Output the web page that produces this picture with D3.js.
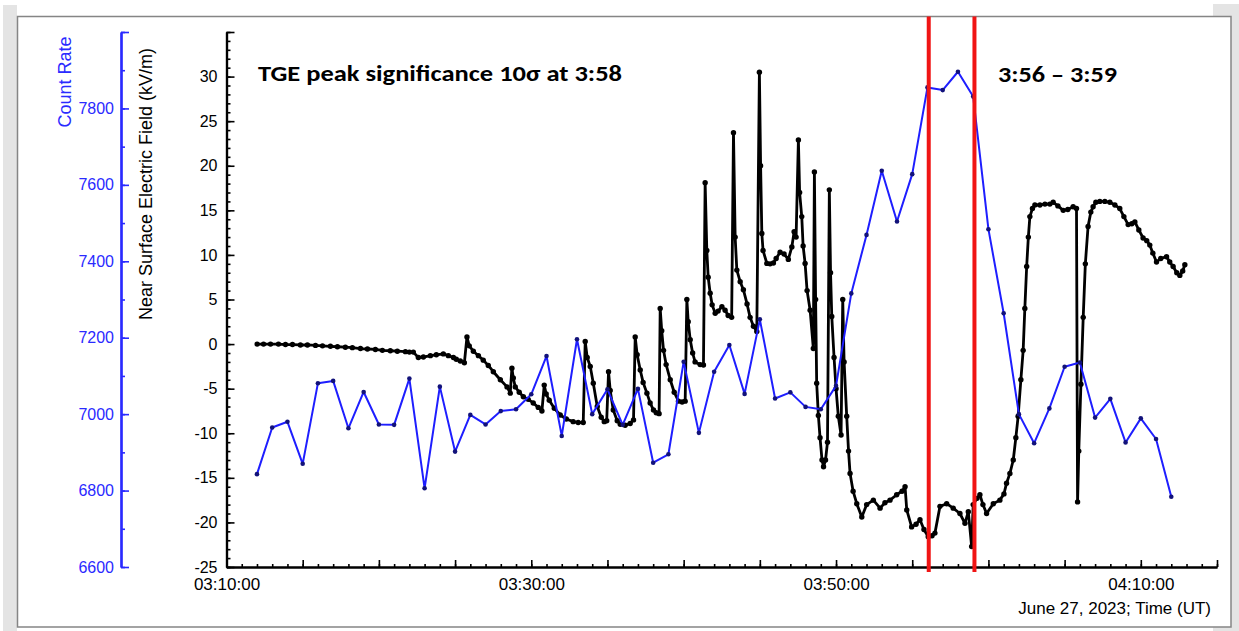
<!DOCTYPE html>
<html>
<head>
<meta charset="utf-8">
<script src="https://cdn.jsdelivr.net/npm/d3@7"></script>
<style>
  body { margin: 0; background: #fff; }
  svg { display: block; font-family: Arial, "Liberation Sans", sans-serif; }
</style>
</head>
<body>
<svg id="chart" width="1239" height="631"></svg>
<script>
// 1-minute count rate (blue), June 27, 2023
const countTimes = ["03:12:00","03:13:00","03:14:00","03:15:00","03:16:00","03:17:00","03:18:00","03:19:00","03:20:00","03:21:00",
  "03:22:00","03:23:00","03:24:00","03:25:00","03:26:00","03:27:00","03:28:00","03:29:00","03:30:00","03:31:00",
  "03:32:00","03:33:00","03:34:00","03:35:00","03:36:00","03:37:00","03:38:00","03:39:00","03:40:00","03:41:00",
  "03:42:00","03:43:00","03:44:00","03:45:00","03:46:00","03:47:00","03:48:00","03:49:00","03:50:00","03:51:00",
  "03:52:00","03:53:00","03:54:00","03:55:00","03:56:00","03:57:00","03:58:00","03:59:00","04:00:00","04:01:00",
  "04:02:00","04:03:00","04:04:00","04:05:00","04:06:00","04:07:00","04:08:00","04:09:00","04:10:00","04:11:00","04:12:00"];
const countRate = [6843,6965,6980,6870,7081,7087,6963,7058,6973,6972,
  7093,6806,7072,6902,6998,6973,7008,7013,7052,7152,
  6943,7196,7000,7065,6972,7066,6873,6895,7137,6951,
  7111,7181,7053,7248,7041,7057,7019,7013,7074,7316,
  7469,7637,7504,7628,7855,7848,7896,7831,7484,7264,
  7000,6924,7015,7124,7135,6991,7040,6926,6989,6935,6784];

// near surface electric field (black): minutes after 03:00 UT, kV/m
const fieldMin = [12.01,12.43,12.89,13.41,13.87,14.33,14.85,15.31,15.84,16.30,16.82,17.28,17.80,18.26,18.79,19.25,19.77,20.23,20.75,21.21,
  21.74,22.00,22.26,22.59,22.92,23.38,23.77,24.23,24.56,24.89,25.08,25.34,25.61,25.78,25.93,26.20,26.53,26.85,27.18,27.51,
  27.97,28.41,28.62,28.73,28.82,28.95,29.21,29.48,29.80,30.13,30.46,30.70,30.85,30.98,31.18,31.51,31.90,32.30,32.75,33.08,
  33.41,33.54,33.67,33.87,34.07,34.33,34.59,34.79,34.95,35.07,35.18,35.38,35.64,35.84,36.16,36.49,36.71,36.82,36.95,37.15,
  37.34,37.59,37.80,38.02,38.20,38.39,38.46,38.56,38.68,38.85,39.12,39.38,39.66,39.90,40.10,40.21,40.30,40.43,40.59,40.75,
  41.08,41.30,41.41,41.52,41.61,41.74,41.87,42.07,42.26,42.51,42.72,42.92,43.15,43.27,43.38,43.49,43.71,43.92,44.16,44.36,
  44.58,44.80,44.97,45.05,45.13,45.21,45.46,45.67,45.89,46.07,46.33,46.59,46.87,47.10,47.25,47.38,47.53,47.61,47.75,47.84,
  47.97,48.10,48.30,48.51,48.58,48.66,48.73,48.84,48.95,49.08,49.18,49.31,49.44,49.56,49.64,49.72,49.87,50.00,50.15,50.33,
  50.44,50.53,50.70,50.82,50.92,51.12,51.36,51.69,52.01,52.45,52.89,53.21,53.54,53.98,54.33,54.53,54.64,54.96,55.25,55.51,
  55.77,56.05,56.30,56.49,56.82,57.26,57.69,58.13,58.46,58.68,58.90,59.00,59.25,59.44,59.64,59.88,60.32,60.75,61.02,61.19,
  61.41,61.63,61.80,61.95,62.13,62.28,62.39,62.51,62.62,62.72,62.89,63.05,63.38,63.71,64.03,64.25,64.56,64.91,65.21,65.56,
  65.78,65.85,65.93,66.07,66.22,66.36,66.54,66.72,66.87,67.05,67.31,67.64,67.97,68.30,68.62,68.89,69.17,69.41,69.61,69.87,
  70.15,70.39,70.59,70.79,71.03,71.31,71.69,71.90,72.12,72.36,72.56,72.75,72.89];
const fieldKV = [0.0,0.0,0.0,0.0,-0.05,-0.05,-0.1,-0.1,-0.15,-0.2,-0.25,-0.3,-0.35,-0.4,-0.5,-0.55,-0.6,-0.7,-0.75,-0.8,
  -0.85,-0.9,-0.9,-1.5,-1.45,-1.3,-1.2,-1.1,-1.3,-1.5,-1.7,-1.9,-2.1,0.8,-0.2,-0.8,-1.3,-1.8,-2.4,-3.1,
  -4.0,-4.8,-5.5,-2.7,-3.8,-4.8,-5.4,-5.9,-6.2,-6.6,-7.1,-7.5,-4.6,-5.6,-6.3,-7.2,-7.95,-8.4,-8.7,-8.8,
  -8.8,0.3,-1.5,-2.5,-4.4,-7.0,-8.2,-8.7,-8.6,-3.1,-5.2,-7.4,-8.6,-9.0,-9.1,-8.9,-8.5,0.8,-1.2,-2.9,
  -4.3,-5.5,-6.6,-7.4,-7.7,-7.8,4.0,1.5,-0.7,-2.3,-4.0,-5.4,-6.4,-6.5,-6.4,5.0,2.5,0.5,-1.0,-2.0,
  -2.3,-2.35,18.1,10.5,7.5,5.7,4.4,3.45,3.7,4.2,3.8,3.2,3.0,23.7,12.0,8.3,7.0,6.1,4.5,3.0,
  2.0,1.4,30.5,20.0,12.4,10.5,9.05,9.0,9.1,9.6,10.3,10.1,9.5,10.9,12.6,12.0,22.9,17.0,14.3,11.0,
  9.05,6.0,3.8,-0.5,19.3,5.0,-4.4,-8.0,-10.5,-13.0,-13.75,-13.0,-11.0,17.3,8.0,3.1,-1.5,-5.0,-8.1,-10.2,
  5.0,-2.0,-8.1,-12.0,-14.5,-16.5,-17.9,-19.4,-18.0,-17.5,-18.4,-17.8,-17.5,-16.9,-16.5,-16.0,-18.6,-20.5,-20.2,-19.7,
  -20.8,-21.6,-21.5,-21.2,-18.2,-17.9,-18.4,-19.0,-20.1,-18.8,-22.7,-18.0,-17.3,-16.9,-18.0,-19.0,-17.9,-17.5,-16.8,-15.6,
  -14.5,-13.0,-10.5,-8.1,-4.0,-0.7,4.0,8.7,12.0,14.3,15.2,15.6,15.6,15.7,15.7,15.9,15.5,15.0,15.1,15.4,
  15.2,-17.7,-12.0,-4.5,3.0,9.0,13.2,14.8,15.4,15.9,16.0,16.0,15.9,15.6,15.2,14.3,13.4,13.5,13.7,12.8,
  11.9,11.6,11.1,10.2,9.2,9.6,9.8,9.2,8.7,8.0,7.7,8.2,8.9];

const xLabelTimes = ["03:10:00","03:30:00","03:50:00","04:10:00"];
const windowTimes = ["03:56:05","03:59:05"];   // red markers of the TGE window
const fieldLabels = [-25,-20,-15,-10,-5,0,5,10,15,20,25,30];
const countLabels = [6600,6800,7000,7200,7400,7600,7800];

const BLUE = "#2a2aff";
const parse = d3.utcParse("%H:%M:%S");
const t0 = parse("03:00:00");
const fromMin = m => new Date(t0.getTime() + m * 60000);

const svg = d3.select("#chart");

// page / frame
svg.append("rect").attr("x", 3).attr("y", 5).attr("width", 14).attr("height", 626).attr("fill", "#e4e4e4");
svg.append("rect").attr("x", 1213).attr("y", 4).attr("width", 26).attr("height", 627).attr("fill", "#e4e4e4");
svg.append("rect").attr("x", 17.5).attr("y", 16.5).attr("width", 1213.5).attr("height", 610.5)
  .attr("fill", "#fff").attr("stroke", "#858585").attr("stroke-width", 1.5);

const x0 = 226.5, xEnd = 1217, yTop = 32, yBot = 567;
const x = d3.scaleUtc().domain([parse("03:10:00"), parse("04:15:00")]).range([x0, xEnd]);
const yE = d3.scaleLinear().domain([-25, 35]).range([yBot, yTop]);
const yC = d3.scaleLinear().domain([6600, 8000]).range([yBot, yTop]);

function styleAxis(g, color, w) {
  g.select(".domain").attr("stroke", color).attr("stroke-width", w);
  g.selectAll(".tick line").attr("stroke", color).attr("stroke-width", 1.6);
  g.selectAll(".tick text").attr("fill", color);
}

// count rate axis (blue)
const cx = 121;
svg.append("g").attr("transform", `translate(${cx},0)`)
  .call(d3.axisLeft(yC).ticks(14).tickSize(-4).tickSizeOuter(0).tickFormat(""))
  .call(g => styleAxis(g, BLUE, 2.2));
svg.append("g").attr("transform", `translate(${cx},0)`)
  .call(d3.axisLeft(yC).tickValues(countLabels.concat([8000])).tickSize(-8).tickSizeOuter(0).tickPadding(7)
    .tickFormat(d => countLabels.includes(d) ? d : ""))
  .call(g => styleAxis(g, BLUE, 2.2))
  .call(g => g.selectAll("text").attr("font-size", 16));

// electric field axis (black)
svg.append("g").attr("transform", `translate(${x0},0)`)
  .call(d3.axisLeft(yE).ticks(60).tickSize(-4).tickSizeOuter(0).tickFormat(""))
  .call(g => styleAxis(g, "#000", 2.2));
svg.append("g").attr("transform", `translate(${x0},0)`)
  .call(d3.axisLeft(yE).tickValues(fieldLabels.concat([35])).tickSize(-8).tickSizeOuter(0).tickPadding(9)
    .tickFormat(d => fieldLabels.includes(d) ? String(d) : ""))
  .call(g => styleAxis(g, "#000", 2.2))
  .call(g => g.selectAll("text").attr("font-size", 16));

// time axis
svg.append("g").attr("transform", `translate(0,${yBot})`)
  .call(d3.axisBottom(x).ticks(d3.utcMinute.every(1)).tickSize(-3).tickSizeOuter(0).tickFormat(""))
  .call(g => styleAxis(g, "#000", 2.2));
svg.append("g").attr("transform", `translate(0,${yBot})`)
  .call(d3.axisBottom(x).ticks(d3.utcMinute.every(5)).tickSize(-7).tickSizeOuter(0).tickFormat(""))
  .call(g => styleAxis(g, "#000", 2.2));
svg.append("g").attr("transform", `translate(0,${yBot})`)
  .call(d3.axisBottom(x).tickValues(xLabelTimes.map(parse)).tickSize(0).tickPadding(11)
    .tickFormat(d3.utcFormat("%H:%M:%S")))
  .call(g => g.select(".domain").remove())
  .call(g => g.selectAll("text").attr("font-size", 17).attr("fill", "#000"));

// axis titles
svg.append("text").attr("transform", "translate(71,82) rotate(-90)").attr("text-anchor", "middle")
  .attr("font-size", 18).attr("fill", BLUE).text("Count Rate");
svg.append("text").attr("transform", "translate(152,184) rotate(-90)").attr("text-anchor", "middle")
  .attr("font-size", 18).attr("fill", "#000").text("Near Surface Electric Field (kV/m)");
svg.append("text").attr("x", 1211).attr("y", 614).attr("text-anchor", "end")
  .attr("font-size", 17).attr("fill", "#000").text("June 27, 2023; Time (UT)");

// electric field series
const field = fieldMin.map((m, i) => ({ t: fromMin(m), v: fieldKV[i] }));
svg.append("path").datum(field)
  .attr("fill", "none").attr("stroke", "#000").attr("stroke-width", 2.8).attr("stroke-linejoin", "round")
  .attr("d", d3.line().x(d => x(d.t)).y(d => yE(d.v)));
svg.append("g").selectAll("circle").data(field).join("circle")
  .attr("cx", d => x(d.t)).attr("cy", d => yE(d.v)).attr("r", 2.7).attr("fill", "#000");

// count rate series
const counts = countTimes.map((s, i) => ({ t: parse(s), v: countRate[i] }));
svg.append("path").datum(counts)
  .attr("fill", "none").attr("stroke", "#1e1eff").attr("stroke-width", 2).attr("stroke-linejoin", "round")
  .attr("d", d3.line().x(d => x(d.t)).y(d => yC(d.v)));
svg.append("g").selectAll("circle").data(counts).join("circle")
  .attr("cx", d => x(d.t)).attr("cy", d => yC(d.v)).attr("r", 2.3).attr("fill", "#12127a");

// TGE window
svg.append("g").selectAll("line").data(windowTimes.map(parse)).join("line")
  .attr("x1", d => x(d)).attr("x2", d => x(d)).attr("y1", 16.5).attr("y2", 572)
  .attr("stroke", "#f01414").attr("stroke-width", 4);

// annotations
svg.append("text").attr("x", 258).attr("y", 81).attr("font-family", "Carlito, Calibri, 'Open Sans', sans-serif")
  .attr("font-weight", "bold").attr("font-size", 22).attr("textLength", 364).attr("lengthAdjust", "spacingAndGlyphs")
  .text("TGE peak significance 10σ at 3:58");
svg.append("text").attr("x", 998).attr("y", 81.5).attr("font-family", "Carlito, Calibri, 'Open Sans', sans-serif")
  .attr("font-weight", "bold").attr("font-size", 22).attr("textLength", 119).attr("lengthAdjust", "spacingAndGlyphs")
  .text("3:56 – 3:59");
</script>
</body>
</html>
